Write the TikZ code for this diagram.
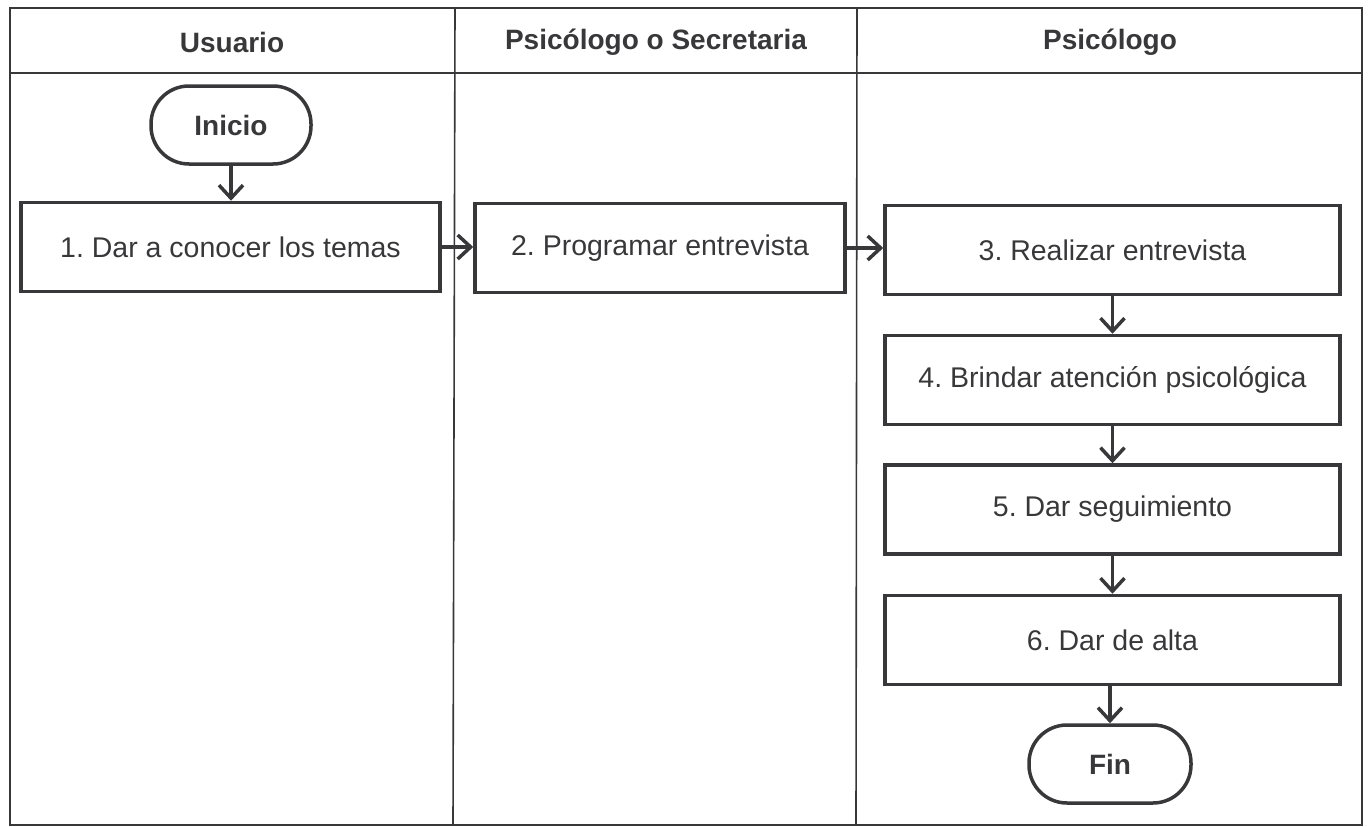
\documentclass[tikz,border=0pt]{standalone}
\usepackage{fontspec}
\setmainfont{Liberation Sans}
\usetikzlibrary{arrows.meta}
\definecolor{ink}{HTML}{38383A}
\frenchspacing
\begin{document}
\begin{tikzpicture}[x=1pt,y=-1pt,
  every node/.style={text=ink,font=\fontsize{28.5}{34}\selectfont},
  procbox/.style={draw=ink,line width=3.5pt,inner sep=0pt,minimum height=89pt},
  term/.style={draw=ink,line width=3.5pt,inner sep=0pt,minimum height=78pt,rounded corners=38pt,font=\fontsize{28}{34}\selectfont\bfseries},
  head/.style={font=\fontsize{28}{34}\selectfont\bfseries},
  frame/.style={draw=ink,line width=2.2pt},
  lane/.style={draw=ink,line width=1.6pt},
  flow/.style={draw=ink,line width=3.5pt,-{Straight Barb[length=13pt,width=24pt,line width=3.5pt]}}]
\useasboundingbox (0,0) rectangle (1369,827);
% swimlane frame
\draw[frame] (10,8) rectangle (1362,825);
\draw[frame] (10,73) -- (1362,73);
\draw[lane] (455,8) -- (453,825);
\draw[lane] (857,8) -- (856,825);
% headers
\node[head] (h1) at (232,42) {Usuario};
\node[head] (h2) at (656,42) {Psicólogo o Secretaria};
\node[head] (h3) at (1110,42) {Psicólogo};
% nodes
\node[term,minimum width=160pt] (ini) at (231,125) {Inicio};
\node[procbox,minimum width=419pt] (b1) at (230.5,247) {1. Dar a conocer los temas};
\node[procbox,minimum width=370pt] (b2) at (660,248) {2. Programar entrevista};
\node[procbox,minimum width=455pt] (b3) at (1112.5,250) {3. Realizar entrevista};
\node[procbox,minimum width=455pt] (b4) at (1112.5,380) {4. Brindar atención psicológica};
\node[procbox,minimum width=455pt] (b5) at (1112.5,509.5) {5. Dar seguimiento};
\node[procbox,minimum width=455pt] (b6) at (1112.5,640) {6. Dar de alta};
\node[term,minimum width=162pt] (fin) at (1110,764) {Fin};
% connectors
\draw[flow] (ini.south) -- (ini.south |- b1.north);
\draw[flow] (b1.east) -- (b1.east -| b2.west);
\draw[flow] (b2.east) -- (b2.east -| b3.west);
\draw[flow] (b3.south) -- (b4.north);
\draw[flow] (b4.south) -- (b5.north);
\draw[flow] (b5.south) -- (b6.north);
\draw[flow] (fin.north |- b6.south) -- (fin.north);
\end{tikzpicture}
\end{document}
